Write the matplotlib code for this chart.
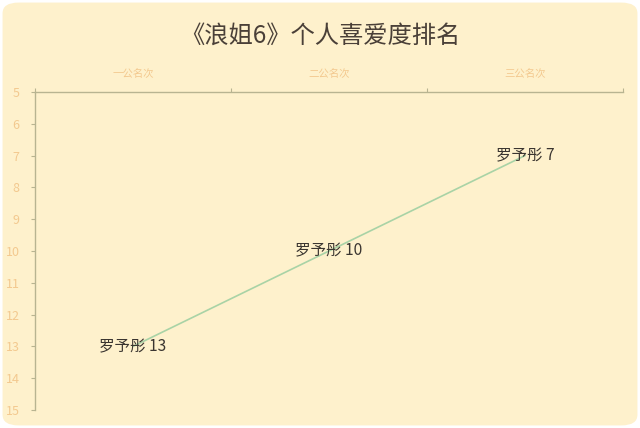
import matplotlib
matplotlib.use("Agg")
import matplotlib.pyplot as plt
from matplotlib.patches import FancyBboxPatch

plt.rcParams['font.family'] = ['Noto Sans CJK SC', 'DejaVu Sans']

rounds = ["一公名次", "二公名次", "三公名次"]
ranks = [13, 10, 7]
name = "罗予彤"
yticks = list(range(5, 16))

BG = "#FEF1CC"
TICK_C = "#F3C98F"
AX_C = "#B8B491"
LINE_C = "#A9D3A6"
TXT_C = "#3A3530"

fig = plt.figure(figsize=(6.4, 4.28), dpi=100, facecolor="white")
fig.patches.append(FancyBboxPatch((0.004, 0.006), 0.992, 0.988,
                                  boxstyle="round,pad=0,rounding_size=0.025",
                                  transform=fig.transFigure, facecolor=BG,
                                  edgecolor="none", zorder=-10))

ax = fig.add_axes([35/640, 18/428, 588/640, 318/428])
ax.set_facecolor("none")

xs = [i + 0.5 for i in range(len(rounds))]
ax.plot(xs, ranks, color=LINE_C, lw=1.2)
for x, r in zip(xs, ranks):
    ax.text(x, r, f"{name} {r}", ha="center", va="center", fontsize=11.2, color=TXT_C)

ax.set_xlim(0, len(rounds))
ax.set_ylim(15, 5)
ax.set_yticks(yticks)

ax.xaxis.tick_top()
ax.set_xticks(range(len(rounds) + 1))
ax.set_xticklabels([])
ax.set_xticks(xs, minor=True)
ax.set_xticklabels(rounds, minor=True, fontsize=7.5, color=TICK_C)
ax.tick_params(axis="x", which="major", length=3, color=AX_C, width=0.8)
ax.tick_params(axis="x", which="minor", length=0, pad=9)
ax.tick_params(axis="y", length=3, color=AX_C, width=0.8, labelsize=9,
               labelcolor=TICK_C, pad=8)

for s in ["right", "bottom"]:
    ax.spines[s].set_visible(False)
for s in ["top", "left"]:
    ax.spines[s].set_color(AX_C)
    ax.spines[s].set_linewidth(1)

fig.text(0.5, 1 - 36/428, "《浪姐6》个人喜爱度排名", ha="center", va="center",
         fontsize=17.5, color="#4A4038")

fig.savefig("out.png", dpi=100, facecolor=fig.get_facecolor())
